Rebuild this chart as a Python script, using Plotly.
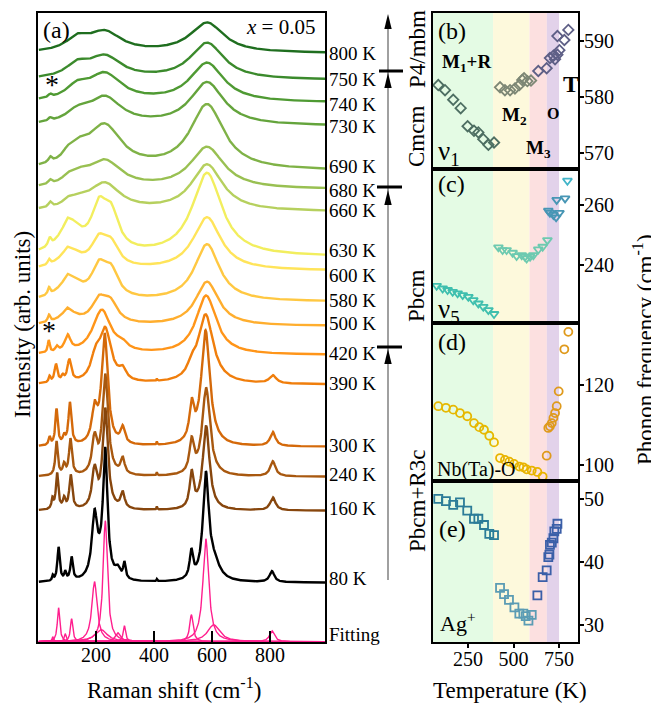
import numpy as np
import plotly.graph_objects as go

# page body has an 8 px margin: the figure is drawn 8 px smaller and all positions shifted
W, H = 651, 696
SHIFT = 8
FONT = "Liberation Serif"

# ---------------- Panel (a): Raman spectra ----------------
temp_labels = ["800 K", "750 K", "740 K", "730 K", "690 K", "680 K", "660 K", "630 K", "600 K",
               "580 K", "500 K", "420 K", "390 K", "300 K", "240 K", "160 K", "80 K"]
label_y = [589, 563, 538, 516, 476, 452, 432, 392, 367, 342, 319, 289, 259, 197, 168, 134, 64]
offsets = [588.7, 562, 539.3, 516, 471.3, 452.7, 430.3, 385.3, 371.3, 340.3, 316, 287, 257.5,
           195.3, 165.3, 131.3, 59.3]
colors = ["#1f6e1f", "#3b8a2c", "#4f9a33", "#64a43c", "#7fb247", "#99c052", "#b6d05e", "#f2ee5e",
          "#ffe45a", "#ffc842", "#ffae2e", "#ff9519", "#f07e0c", "#d4690a", "#a8580f", "#87460d",
          "#000000"]
# peak lists (centre cm-1, half width cm-1, height)
fit_peaks = [(51, 3, 5), (71, 5, 34), (94, 4, 8), (116, 5, 23), (195, 11, 60), (218, 25, 12),
             (232, 9, 121), (275, 10, 9), (298, 5, 16), (529, 7, 27), (579, 12, 103),
             (606, 25, 17), (807, 10, 11)]
spectrum_peaks = [
    [(135, 45, 12), (230, 70, 20), (583, 70, 30)],
    [(135, 45, 12), (230, 70, 22), (583, 70, 36.5)],
    [(42, 7, 3), (135, 45, 12), (230, 70, 27), (583, 70, 39)],
    [(42, 7, 3), (135, 45, 10), (230, 70, 27), (583, 70, 43)],
    [(42, 7, 5), (100, 15, 4), (135, 45, 16), (230, 70, 42), (583, 70, 65)],
    [(42, 7, 4), (100, 15, 3), (135, 45, 11), (230, 70, 26.5), (583, 70, 41.5)],
    [(42, 7, 5), (100, 15, 4), (135, 45, 8), (230, 65, 26.5), (583, 65, 46.5)],
    [(40, 6, 8), (100, 8, 4), (110, 45, 30), (210, 32, 40), (252, 32, 34), (583, 62, 83)],
    [(38, 5, 5), (100, 8, 3), (110, 45, 18), (210, 32, 25), (252, 32, 21), (583, 58, 53)],
    [(38, 5, 7), (100, 8, 4), (110, 45, 21), (210, 30, 29), (252, 30, 25), (583, 52, 57)],
    [(38, 5, 7), (100, 8, 4), (105, 40, 12), (210, 30, 22), (250, 30, 19), (583, 48, 44)],
    [(37, 4, 12), (65, 6, 5), (102, 12, 16), (220, 38, 44), (290, 20, 6), (580, 42, 59)],
    [(40, 4, 6), (62, 6, 18), (85, 5, 5), (108, 8, 22), (198, 18, 20), (232, 25, 52),
     (292, 14, 10), (410, 1.5, 2), (530, 15, 10), (578, 32, 69), (810, 14, 8)],
    [(40, 4, 8), (64, 5, 36), (90, 5, 8), (110, 6, 42), (195, 11, 32), (230, 13, 110),
     (292, 9, 16), (410, 1.5, 3), (530, 9, 35), (578, 18, 115), (810, 11, 14)],
    [(64, 5, 34), (90, 5, 10), (112, 6, 36), (195, 10, 35), (232, 12, 100), (292, 8, 16),
     (410, 1.5, 3), (530, 9, 32), (580, 16, 88), (810, 11, 15)],
    [(50, 4, 10), (66, 5, 36), (90, 5, 10), (113, 6, 34), (195, 10, 38), (232, 11, 100),
     (292, 8, 16), (410, 1.5, 3), (530, 8, 35), (580, 14, 84), (810, 11, 13)],
    fit_peaks + [(410, 1.5, 2)],
]
fit_offset = 0.3
raman_x = np.arange(3, 991, 1.0)

# ---------------- Panels (b)-(e): phonon frequencies ----------------
T_b = [[87, 124, 169, 210, 248, 283, 307, 334, 362, 393],
       [426, 453, 481, 508, 532, 548, 558, 576, 596],
       [636, 682, 700, 719, 728, 741, 752, 741, 779, 801]]
v_b = [[582.1, 581.2, 579.5, 578.0, 574.8, 574.0, 573.7, 572.5, 571.5, 571.9],
       [581.7, 581.2, 581.2, 581.5, 582.1, 583.0, 583.3, 582.8, 582.9],
       [584.6, 585.1, 586.9, 587.3, 586.7, 587.5, 588.3, 590.8, 590.1, 591.9]]
T_c = [[78, 111, 138, 166, 193, 221, 252, 279, 307, 334, 362, 393],
       [417, 440, 462, 495, 517, 545, 563, 572, 591, 609, 636, 660, 686],
       [691, 700, 719, 734, 752, 737, 783],
       [796]]
v_c = [[233.1, 232.2, 231.7, 231.1, 230.6, 230.0, 229.4, 228.3, 227.2, 226.1, 225.0, 223.7],
       [245.9, 245.0, 245.0, 244.1, 243.0, 243.3, 242.8, 242.2, 242.8, 243.3, 245.2, 246.1, 248.3],
       [258.1, 257.4, 256.7, 255.9, 257.4, 261.7, 262.2],
       [268.1]]
T_d = [[87, 129, 169, 206, 246, 283, 312, 338, 367, 393],
       [426, 453, 477, 503, 532, 554, 572, 600, 631, 660],
       [682, 691, 700, 710, 719, 728, 737, 748, 779, 801]]
v_d = [[114.6, 114.2, 113.75, 112.9, 112.1, 110.4, 109.4, 108.75, 107.25, 105.6],
       [101.7, 101.25, 100.8, 100.25, 99.6, 99.4, 98.9, 98.6, 98.25, 97.1],
       [102.3, 109.2, 109.6, 110.4, 111.7, 112.9, 114.6, 118.3, 128.75, 133.1]]
T_e = [[87, 129, 169, 206, 246, 283, 307, 338, 367, 393],
       [426, 448, 475, 505, 532, 554, 567, 582, 600],
       [631, 660, 682, 691, 697, 700, 710, 719, 724, 737, 741]]
v_e = [[50.05, 49.7, 49.1, 49.5, 48.2, 46.9, 46.9, 45.9, 44.5, 44.3],
       [35.9, 34.9, 34.0, 32.8, 31.8, 31.8, 31.4, 30.7, 31.6],
       [34.7, 37.6, 38.7, 40.8, 41.2, 42.75, 43.1, 43.8, 44.9, 45.3, 46.1]]

col_b = ["#4d6e62", "#7d8775", "#5e5f86"]
col_c = ["#3fbfae", "#6dcab0", "#4796b5", "#42b5c9"]
col_d = ["#e6b800", "#e8b400", "#df9a1c"]
col_e = ["#2b7c98", "#5b9cb4", "#3b5fa8"]

band_edges = [58, 388, 588, 683, 750]
band_colors = ["#e4fbe4", "#fdf9dc", "#fce0e0", "#e2d2ea"]

# ---------------- build figure ----------------
fig = go.Figure()


def lor(c, w, a):
    return a / (1 + ((raman_x - c) / w) ** 2)


for lab, off, col, pk in zip(temp_labels, offsets, colors, spectrum_peaks):
    y = off + sum(lor(c, w, a) for c, w, a in pk)
    fig.add_trace(go.Scatter(x=raman_x, y=y, mode="lines", line=dict(color=col, width=2.4),
                             xaxis="x", yaxis="y", showlegend=False, hoverinfo="skip"))
for c, w, a in fit_peaks:
    fig.add_trace(go.Scatter(x=raman_x, y=fit_offset + lor(c, w, a), mode="lines",
                             line=dict(color="#ff1f8e", width=1.4),
                             xaxis="x", yaxis="y", showlegend=False, hoverinfo="skip"))


def add_panel(Ts, vs, cols, symbol, ax):
    for t, v, c in zip(Ts, vs, cols):
        fig.add_trace(go.Scatter(x=t, y=v, mode="markers",
                                 marker=dict(symbol=symbol, size=8, color=c,
                                             line=dict(color=c, width=1.8)),
                                 xaxis="x" + ax, yaxis="y" + ax, showlegend=False))


add_panel(T_b, v_b, col_b, "diamond-open", "2")
add_panel(T_c, v_c, col_c, "triangle-down-open", "3")
add_panel(T_d, v_d, col_d, "circle-open", "4")
add_panel(T_e, v_e, col_e, "square-open", "5")


def px(x):
    return (x - SHIFT) / W


def py(y):
    return 1 - (y - SHIFT) / H


axis_common = dict(showline=True, mirror=True, linecolor="black", linewidth=2, showgrid=False,
                   zeroline=False, tickfont=dict(family=FONT, size=20, color="black"))
lay = dict(width=W, height=H, margin=dict(l=0, r=0, t=0, b=0), plot_bgcolor="white",
           paper_bgcolor="white", showlegend=False)
lay["xaxis"] = dict(axis_common, domain=[px(38), px(325)], range=[0, 990], anchor="y",
                    ticks="inside", ticklen=11, tickwidth=2, tickcolor="black",
                    tickvals=[200, 400, 600, 800], ticklabelstandoff=-6)
lay["yaxis"] = dict(axis_common, domain=[py(642), py(13)], range=[0, 629], anchor="x",
                    ticks="", showticklabels=False)
panel_dom = [(13, 169), (169, 323), (323, 481), (481, 642)]
yranges = [[567.2, 594.9], [220.7, 272], [96, 135.3], [27.3, 52.9]]
yticks = [[570, 580, 590], [240, 260], [100, 120], [30, 40, 50]]
for i in range(4):
    n = str(i + 2)
    top, bot = panel_dom[i]
    xa = dict(axis_common, domain=[px(433), px(578)], range=[58, 854], anchor="y" + n)
    if i == 3:
        xa.update(ticks="outside", ticklen=4, tickwidth=1.5, tickcolor="black",
                  tickvals=[250, 500, 750], ticklabelstandoff=-6)
    else:
        xa.update(ticks="", showticklabels=False)
    lay["xaxis" + n] = xa
    lay["yaxis" + n] = dict(axis_common, domain=[py(bot), py(top)], range=yranges[i],
                            anchor="x" + n, side="right", ticks="outside", ticklen=4,
                            tickwidth=1.5, tickcolor="black", tickvals=yticks[i],
                            ticklabelstandoff=-4)
fig.update_layout(**lay)

shapes = []
for i in range(4):
    n = str(i + 2)
    for j in range(4):
        shapes.append(dict(type="rect", xref="x" + n, yref="y" + n + " domain",
                           x0=band_edges[j], x1=band_edges[j + 1], y0=0, y1=1,
                           fillcolor=band_colors[j], line=dict(width=0), layer="below"))
# phase arrow
shapes.append(dict(type="line", xref="paper", yref="paper", x0=px(388), x1=px(388),
                   y0=py(22), y1=py(580), line=dict(color="#808080", width=1.5)))
for yy, x0, x1 in [(71, 379, 403), (187, 377, 402), (347, 377, 402)]:
    shapes.append(dict(type="line", xref="paper", yref="paper", x0=px(x0), x1=px(x1),
                       y0=py(yy), y1=py(yy), line=dict(color="black", width=3)))
for tip in [14, 73, 190, 349]:
    path = "M {:.5f},{:.5f} L {:.5f},{:.5f} L {:.5f},{:.5f} Z".format(
        px(388), py(tip), px(384.3), py(tip + 15), px(391.7), py(tip + 15))
    shapes.append(dict(type="path", xref="paper", yref="paper", path=path,
                       fillcolor="black", line=dict(width=0)))
fig.update_layout(shapes=shapes)

ann = []


def text(x, y, s, size=20, xanchor="center", angle=0, color="black"):
    ann.append(dict(x=px(x), y=py(y), xref="paper", yref="paper", text=s, showarrow=False,
                    xanchor=xanchor, yanchor="middle", textangle=angle,
                    font=dict(family=FONT, size=size, color=color)))


for lab, ly in zip(temp_labels, label_y):
    ann.append(dict(x=px(327), y=ly, xref="paper", yref="y", text=lab, showarrow=False,
                    xanchor="left", yanchor="middle", font=dict(family=FONT, size=19, color="black")))
ann.append(dict(x=px(327), y=8, xref="paper", yref="y", text="Fitting", showarrow=False,
                xanchor="left", yanchor="middle", font=dict(family=FONT, size=19, color="black")))

text(56, 30, "(a)", 24)
text(280, 27, "<i>x</i> = 0.05", 21)
text(52, 84, "*", 28)
text(49, 330, "*", 28)
text(452, 31, "(b)", 24)
text(451, 184, "(c)", 24)
text(452, 342, "(d)", 24)
text(452, 529, "(e)", 24)
text(466, 63, "<b>M<sub>1</sub>+R</b>", 19)
text(514, 116, "<b>M<sub>2</sub></b>", 19)
text(538, 149, "<b>M<sub>3</sub></b>", 19)
text(553, 113, "<b>O</b>", 16)
text(571, 84, "<b>T</b>", 24)
text(449, 153, "ν<sub>1</sub>", 27)
text(449, 311, "ν<sub>5</sub>", 27)
text(476, 469, "Nb(Ta)-O", 20)
text(458, 622, "Ag<sup>+</sup>", 22)
text(417, 49, "P4/mbm", 23, angle=-90)
text(417, 137, "Cmcm", 23, angle=-90)
text(417, 296, "Pbcm", 23, angle=-90)
text(417, 501, "Pbcm+R3c", 23, angle=-90)
text(22, 325, "Intensity (arb. units)", 23, angle=-90)
text(174, 688, "Raman shift (cm<sup>-1</sup>)", 23)
text(510, 690, "Temperature (K)", 23)
text(643, 350, "Phonon frequency (cm<sup>-1</sup>)", 23, angle=-90)
fig.update_layout(annotations=ann)

fig.write_html("out.html")
